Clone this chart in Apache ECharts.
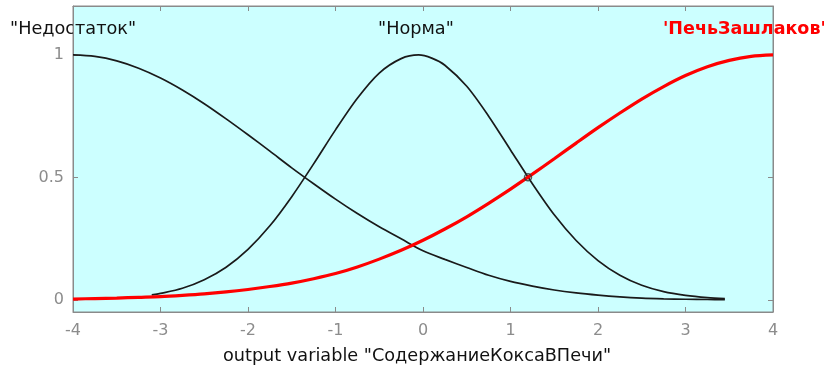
<!DOCTYPE html>
<html><head><meta charset="utf-8">
<script src="https://cdn.jsdelivr.net/npm/echarts@6/dist/echarts.min.js"></script>
<style>html,body{margin:0;padding:0;background:#fff}#c{width:824px;height:374px}</style>
</head><body><div id="c"></div>
<script>
// Membership function "Недостаток"
const nedX = [-4,-3.75,-3.5,-3.25,-3,-2.75,-2.5,-2.25,-2,-1.75,-1.5,-1.25,-1,-0.75,-0.5,-0.25,0,0.25,0.5,0.75,1,1.25,1.5,1.75,2,2.25,2.5,2.75,3,3.25,3.45];
const nedY = [1,0.994,0.976,0.946,0.906,0.857,0.801,0.739,0.674,0.607,0.539,0.474,0.411,0.352,0.298,0.249,0.2,0.165,0.132,0.1,0.075,0.056,0.04,0.028,0.019,0.012,0.007,0.004,0.002,0.001,0.0];
// Membership function "Норма"
const normX = [-3.1,-3,-2.75,-2.5,-2.25,-2,-1.75,-1.5,-1.25,-1,-0.75,-0.5,-0.25,-0.05,0.1,0.25,0.5,0.75,1,1.25,1.5,1.75,2,2.25,2.5,2.75,3,3.25,3.45];
const normY = [0.02,0.026,0.047,0.082,0.133,0.206,0.302,0.421,0.555,0.694,0.823,0.926,0.985,1.0,0.987,0.958,0.872,0.75,0.612,0.474,0.347,0.242,0.16,0.1,0.059,0.033,0.018,0.009,0.005];
// Membership function "ПечьЗашлаков"
const pechX = [-4,-3.75,-3.5,-3.25,-3,-2.75,-2.5,-2.25,-2,-1.75,-1.5,-1.25,-1,-0.75,-0.5,-0.25,0,0.25,0.5,0.75,1,1.25,1.5,1.75,2,2.25,2.5,2.75,3,3.25,3.5,3.75,4];
const pechY = [0.003,0.005,0.007,0.01,0.013,0.018,0.024,0.032,0.042,0.054,0.068,0.086,0.107,0.134,0.166,0.202,0.243,0.289,0.339,0.394,0.452,0.513,0.576,0.64,0.703,0.763,0.82,0.871,0.916,0.952,0.978,0.994,1];
// Selected point marker
const markX = [1.2];
const markY = [0.5];
// Ticks
const xTicks = [-4,-3,-2,-1,0,1,2,3,4];
const yTicks = [0,0.5,1];
// Labels
const mfNames = ['"Недостаток"', '"Норма"', '"ПечьЗашлаков"'];
const xTitle = 'output variable "СодержаниеКоксаВПечи"';

const zip = (xs, ys) => xs.map((x, i) => [x, ys[i]]);
const FONT = '"DejaVu Sans", Verdana, sans-serif';
const grey = '#8c8c8c';
const axisGrey = '#8a8a8a';

const chart = echarts.init(document.getElementById('c'), null, {renderer: 'canvas'});
chart.setOption({
  animation: false,
  backgroundColor: '#ffffff',
  grid: {left: 73, right: 51, top: 6, bottom: 62, show: true, backgroundColor: '#ccffff', borderColor: axisGrey, borderWidth: 1},
  xAxis: [
    {type: 'value', min: xTicks[0], max: xTicks[xTicks.length-1], interval: 1, position: 'bottom',
     axisLine: {show: true, onZero: false, lineStyle: {color: axisGrey}},
     axisTick: {show: true, inside: true, length: 5, lineStyle: {color: axisGrey}},
     axisLabel: {color: grey, fontSize: 16, fontFamily: FONT, margin: 11},
     splitLine: {show: false}},
    {type: 'value', min: xTicks[0], max: xTicks[xTicks.length-1], interval: 1, position: 'top',
     axisLine: {show: true, onZero: false, lineStyle: {color: axisGrey}},
     axisTick: {show: true, inside: true, length: 5, lineStyle: {color: axisGrey}},
     axisLabel: {show: false}, splitLine: {show: false}}
  ],
  yAxis: [
    {type: 'value', min: -0.05, max: 1.2, position: 'left',
     axisLine: {show: true, onZero: false, lineStyle: {color: axisGrey}},
     axisTick: {show: true, inside: true, length: 5, customValues: yTicks, lineStyle: {color: axisGrey}},
     axisLabel: {color: grey, fontSize: 16, fontFamily: FONT, margin: 9, customValues: yTicks},
     splitLine: {show: false}},
    {type: 'value', min: -0.05, max: 1.2, position: 'right',
     axisLine: {show: true, onZero: false, lineStyle: {color: axisGrey}},
     axisTick: {show: true, inside: true, length: 5, customValues: yTicks, lineStyle: {color: axisGrey}},
     axisLabel: {show: false, customValues: yTicks}, splitLine: {show: false}}
  ],
  series: [
    {type: 'line', name: mfNames[0], data: zip(nedX, nedY), showSymbol: false, smooth: 0.3,
     lineStyle: {color: '#1a1a1a', width: 1.7}, z: 3},
    {type: 'line', name: mfNames[1], data: zip(normX, normY), showSymbol: false, smooth: 0.3,
     lineStyle: {color: '#1a1a1a', width: 1.7}, z: 3},
    {type: 'line', name: mfNames[2], data: zip(pechX, pechY), showSymbol: false, smooth: 0.3,
     lineStyle: {color: '#ff0000', width: 3.2}, z: 4},
    {type: 'scatter', data: zip(markX, markY), symbol: 'circle', symbolSize: 7,
     itemStyle: {color: 'rgba(0,0,0,0)', borderColor: '#333', borderWidth: 1.5}, z: 5}
  ],
  graphic: [
    {type: 'text', x: 10, y: 21, scaleX: 1.04, style: {text: mfNames[0], fill: '#111', font: '17px ' + FONT}},
    {type: 'text', x: 378, y: 21, scaleX: 1.04, style: {text: mfNames[1], fill: '#111', font: '17px ' + FONT}},
    {type: 'text', x: 663, y: 21, scaleX: 1.03, style: {text: "'" + mfNames[2].slice(1), fill: '#ff0000', font: 'bold 17px ' + FONT}},
    {type: 'text', x: 417, y: 357, scaleX: 1.04, style: {text: xTitle, fill: '#111', font: '17px ' + FONT, align: 'center', verticalAlign: 'middle'}}
  ]
});
</script></body></html>
